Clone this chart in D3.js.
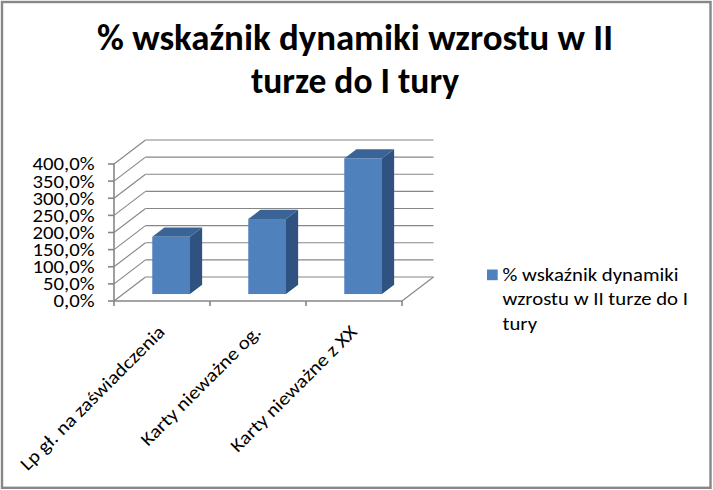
<!DOCTYPE html>
<html>
<head>
<meta charset="utf-8">
<script src="https://cdn.jsdelivr.net/npm/d3@7"></script>
<style>
  html, body { margin: 0; padding: 0; background: #fff; }
  svg { display: block; }
</style>
</head>
<body>
<div id="chart"></div>
<script>
// chart data
const categories = ['Lp gł. na zaświadczenia', 'Karty nieważne og.', 'Karty nieważne z XX'];
const values = [1.67, 2.19, 3.96];
const yTicks = [0, 0.5, 1, 1.5, 2, 2.5, 3, 3.5, 4];
const titleLines = ['% wskaźnik dynamiki wzrostu w II', 'turze do I tury'];
const legendLines = ['% wskaźnik dynamiki', 'wzrostu w II turze do I', 'tury'];

const W = 713, H = 490;
const font = 'Carlito, Lato, "Liberation Sans", sans-serif';

const svg = d3.select('#chart').append('svg')
  .attr('width', W)
  .attr('height', H);

svg.append('rect')
  .attr('x', 2).attr('y', 2)
  .attr('width', 708.5).attr('height', 485.8)
  .attr('fill', '#fff')
  .attr('stroke', '#878787')
  .attr('stroke-width', 2.4);

// stretch a group of texts so that its reference text gets the wanted width
function fitGroup(sel, refIndex, target) {
  const nodes = sel.nodes();
  const k = target / nodes[refIndex].getComputedTextLength();
  nodes.forEach(n => {
    n.setAttribute('textLength', n.getComputedTextLength() * k);
    n.setAttribute('lengthAdjust', 'spacingAndGlyphs');
  });
}

// title
const titleWidths = [516, 208];
svg.append('g')
  .selectAll('text')
  .data(titleLines)
  .join('text')
    .attr('x', 355)
    .attr('y', (d, i) => 50 + i * 43.3)
    .attr('text-anchor', 'middle')
    .attr('font-family', font)
    .attr('font-weight', 'bold')
    .attr('font-size', 36)
    .attr('fill', '#000')
    .attr('textLength', (d, i) => titleWidths[i])
    .attr('lengthAdjust', 'spacingAndGlyphs')
    .text(d => d);

// 3D geometry (front plane + depth offset)
const depthX = 31.5, depthY = -24;
const barFront = 0.29, barBack = 0.675;

const x = d3.scaleBand()
  .domain(categories)
  .range([114, 402])
  .paddingInner(0.607)
  .paddingOuter(0.3035);

const y = d3.scaleLinear()
  .domain([0, 4])
  .range([301, 164]);

const pl = d3.formatLocale({ decimal: ',', thousands: ' ', grouping: [3], currency: ['', ' zł'] });
const fmt = pl.format('.1%');

const grid = svg.append('g')
  .attr('stroke', '#868686')
  .attr('stroke-width', 1.1)
  .attr('fill', 'none');

const x0 = x.range()[0], x1 = x.range()[1];

// left wall diagonals
grid.selectAll('line.lw')
  .data(yTicks)
  .join('line')
    .attr('class', 'lw')
    .attr('x1', x0).attr('y1', d => y(d))
    .attr('x2', x0 + depthX).attr('y2', d => y(d) + depthY);

// back wall horizontals
grid.selectAll('line.bw')
  .data(yTicks)
  .join('line')
    .attr('class', 'bw')
    .attr('x1', x0 + depthX).attr('y1', d => y(d) + depthY)
    .attr('x2', x1 + depthX).attr('y2', d => y(d) + depthY);

// floor right edge
grid.append('line')
  .attr('x1', x1).attr('y1', y(0))
  .attr('x2', x1 + depthX).attr('y2', y(0) + depthY);

// bars
const fx = barFront * depthX, fy = barFront * depthY;
const bx = barBack * depthX, by = barBack * depthY;
const bw = x.bandwidth();
const bars = svg.append('g')
  .selectAll('g.bar')
  .data(categories.map((c, i) => ({ c, v: values[i] })))
  .join('g')
    .attr('class', 'bar');

bars.append('path')
  .attr('fill', '#2f5281')
  .attr('d', d => {
    const l = x(d.c) + bw;
    return `M${l + fx},${y(0) + fy}L${l + bx},${y(0) + by}L${l + bx},${y(d.v) + by}L${l + fx},${y(d.v) + fy}Z`;
  });

bars.append('path')
  .attr('fill', '#3a6496')
  .attr('d', d => {
    const l = x(d.c);
    const t = y(d.v);
    return `M${l + fx},${t + fy}L${l + bw + fx},${t + fy}L${l + bw + bx},${t + by}L${l + bx},${t + by}Z`;
  });

bars.append('rect')
  .attr('fill', '#4f81bd')
  .attr('x', d => x(d.c) + fx)
  .attr('y', d => y(d.v) + fy)
  .attr('width', bw)
  .attr('height', d => y(0) - y(d.v));

// front axes
const axisG = svg.append('g')
  .attr('stroke', '#868686')
  .attr('stroke-width', 1.6);

axisG.append('line')
  .attr('x1', x0).attr('y1', y(4))
  .attr('x2', x0).attr('y2', y(0));
axisG.append('line')
  .attr('x1', x0).attr('y1', y(0))
  .attr('x2', x1).attr('y2', y(0));

axisG.selectAll('line.yt')
  .data(yTicks)
  .join('line')
    .attr('class', 'yt')
    .attr('x1', x0 - 6).attr('x2', x0)
    .attr('y1', d => y(d)).attr('y2', d => y(d));

const step = x.step();
axisG.selectAll('line.xt')
  .data(d3.range(categories.length + 1))
  .join('line')
    .attr('class', 'xt')
    .attr('x1', i => x0 + i * step).attr('x2', i => x0 + i * step)
    .attr('y1', y(0)).attr('y2', y(0) + 5);

// y labels
const yLabels = svg.append('g')
  .selectAll('text')
  .data(yTicks)
  .join('text')
    .attr('x', 94.5)
    .attr('y', d => y(d))
    .attr('dy', '0.36em')
    .attr('text-anchor', 'end')
    .attr('font-family', font)
    .attr('font-size', 18)
    .attr('fill', '#000')
    .text(d => fmt(d));
fitGroup(yLabels, yTicks.length - 1, 62);

// category labels
const catLabels = svg.append('g')
  .selectAll('text')
  .data(categories)
  .join('text')
    .attr('transform', d => `translate(${x(d) + bw / 2 + 4},${y(0) + 32}) rotate(-45)`)
    .attr('text-anchor', 'end')
    .attr('font-family', font)
    .attr('font-size', 18.5)
    .attr('fill', '#000')
    .text(d => d);
fitGroup(catLabels, 0, 196);

// legend
const lg = svg.append('g');
lg.append('rect')
  .attr('x', 487).attr('y', 269.5)
  .attr('width', 10.7).attr('height', 10.7)
  .attr('fill', '#4f81bd');
const legendText = lg.selectAll('text')
  .data(legendLines)
  .join('text')
    .attr('x', 502.5)
    .attr('y', (d, i) => 280.6 + i * 24.5)
    .attr('font-family', font)
    .attr('font-size', 18.5)
    .attr('fill', '#000')
    .text(d => d);
fitGroup(legendText, 0, 176);
</script>
</body>
</html>
